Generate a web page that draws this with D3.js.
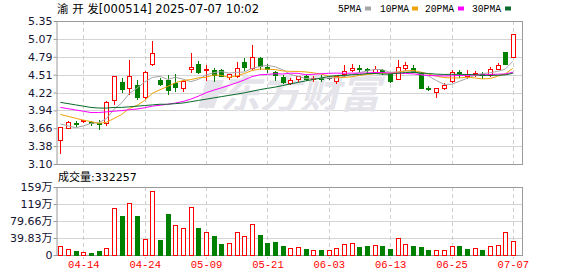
<!DOCTYPE html>
<html><head><meta charset="utf-8">
<script src="https://cdn.jsdelivr.net/npm/d3@7"></script>
<style>body{margin:0;background:#fff}svg{display:block}</style>
</head><body><svg id="c" width="578" height="276"></svg>
<script>
// ---------------- data ----------------
const title = "渝 开 发[000514] 2025-07-07 10:02";
const volLabel = "成交量:332257";
const legendNames = ["5PMA", "10PMA", "20PMA", "30PMA"];

const dates = ["04-09","04-10","04-11","04-14","04-15","04-16","04-17","04-18","04-21","04-22",
  "04-23","04-24","04-25","04-28","04-29","04-30","05-06","05-07","05-08","05-09",
  "05-12","05-13","05-14","05-15","05-16","05-19","05-20","05-21","05-22","05-23",
  "05-26","05-27","05-28","05-29","05-30","06-03","06-04","06-05","06-06","06-09",
  "06-10","06-11","06-12","06-13","06-16","06-17","06-18","06-19","06-20","06-23",
  "06-24","06-25","06-26","06-27","06-30","07-01","07-02","07-03","07-04","07-07"];
const xTicks = ["04-14","04-24","05-09","05-21","06-03","06-13","06-25","07-07"];

const openP = [3.47,3.67,3.75,3.77,3.76,3.75,3.74,4.11,4.39,4.29,
  4.34,4.16,4.67,4.42,4.42,4.37,4.29,4.59,4.67,4.58,
  4.58,4.58,4.47,4.49,4.71,4.61,4.77,4.62,4.55,4.47,
  4.37,4.43,4.48,4.43,4.46,4.45,4.41,4.51,4.58,4.61,
  4.59,4.54,4.58,4.51,4.44,4.61,4.61,4.53,4.30,4.24,
  4.29,4.40,4.54,4.49,4.51,4.51,4.50,4.60,4.87,4.79];
const highP = [3.69,3.78,3.78,3.80,3.77,3.79,4.09,4.48,4.45,4.73,
  4.42,4.56,5.04,4.46,4.50,4.52,4.42,4.84,4.72,4.66,
  4.61,4.59,4.52,4.70,4.76,4.98,4.78,4.67,4.56,4.50,
  4.46,4.49,4.50,4.48,4.50,4.46,4.49,4.66,4.68,4.66,
  4.61,4.64,4.59,4.52,4.73,4.71,4.65,4.54,4.32,4.30,
  4.38,4.58,4.58,4.58,4.57,4.55,4.62,4.69,4.87,5.15];
const lowP = [3.28,3.66,3.70,3.76,3.71,3.65,3.72,4.04,4.24,4.20,
  4.13,4.14,4.66,4.34,4.20,4.25,4.25,4.55,4.53,4.42,
  4.41,4.48,4.44,4.47,4.58,4.59,4.59,4.55,4.42,4.37,
  4.36,4.41,4.42,4.41,4.40,4.44,4.38,4.49,4.57,4.54,
  4.53,4.53,4.52,4.39,4.43,4.58,4.54,4.29,4.26,4.16,
  4.28,4.39,4.47,4.45,4.48,4.46,4.49,4.59,4.67,4.78];
const closeP = [3.68,3.76,3.73,3.79,3.74,3.73,4.07,4.48,4.28,4.49,
  4.15,4.55,4.84,4.36,4.26,4.31,4.41,4.63,4.55,4.60,
  4.50,4.49,4.51,4.61,4.63,4.78,4.64,4.60,4.50,4.39,
  4.42,4.48,4.44,4.46,4.44,4.45,4.48,4.56,4.61,4.59,
  4.58,4.60,4.54,4.40,4.63,4.66,4.55,4.30,4.28,4.29,
  4.35,4.55,4.53,4.51,4.53,4.50,4.60,4.65,4.68,5.15];
const prevCloseBefore = 3.54;

// volume in 万 (10k shares)
const volume = [21,14,10,7,5.5,10,16,109,91,123,
  91,37,150,35,96,70,63,112,64,54,
  45,26,27,54,44,72,46,28,30,21,
  16,18,14,12,12,12,16,25,27,19,
  21,23,21,14,41,25,21,19,12,12,
  11,20,21,14,16,12,20,23,55,33.2257];

const ma5 = [3.73,3.70,3.67,3.70,3.740,3.750,3.812,3.962,4.060,4.210,
  4.294,4.390,4.462,4.478,4.432,4.464,4.436,4.394,4.432,4.500,
  4.538,4.554,4.530,4.542,4.548,4.604,4.634,4.652,4.630,4.582,
  4.510,4.478,4.446,4.438,4.448,4.454,4.454,4.478,4.508,4.538,
  4.564,4.588,4.584,4.542,4.550,4.566,4.556,4.508,4.484,4.416,
  4.354,4.354,4.400,4.446,4.494,4.524,4.534,4.558,4.592,4.716];
const ma10 = [3.88,3.85,3.82,3.79,3.767,3.740,3.756,3.816,3.880,3.975,
  4.022,4.101,4.212,4.269,4.321,4.379,4.413,4.428,4.455,4.466,
  4.501,4.495,4.462,4.487,4.524,4.571,4.594,4.591,4.586,4.565,
  4.557,4.556,4.549,4.534,4.515,4.482,4.466,4.462,4.473,4.493,
  4.509,4.521,4.531,4.525,4.544,4.565,4.572,4.546,4.513,4.483,
  4.460,4.455,4.454,4.465,4.455,4.439,4.444,4.479,4.519,4.605];
const ma20 = [3.99,3.97,3.95,3.93,3.91,3.91,3.92,3.93,3.94,3.955,
  3.965,3.985,4.010,4.025,4.040,4.059,4.084,4.120,4.167,4.221,
  4.262,4.298,4.337,4.378,4.423,4.475,4.504,4.510,4.521,4.516,
  4.529,4.526,4.506,4.511,4.520,4.527,4.530,4.527,4.530,4.529,
  4.533,4.539,4.540,4.530,4.530,4.524,4.519,4.504,4.493,4.488,
  4.485,4.488,4.493,4.495,4.500,4.502,4.508,4.513,4.516,4.544];
const ma30 = [4.07,4.05,4.03,4.01,3.99,3.98,3.98,3.99,3.99,4.00,
  4.01,4.02,4.03,4.04,4.04,4.05,4.06,4.08,4.10,4.12,
  4.14,4.16,4.18,4.20,4.22,4.245,4.27,4.29,4.31,4.335,
  4.360,4.384,4.408,4.430,4.453,4.477,4.491,4.494,4.505,4.508,
  4.522,4.524,4.514,4.515,4.528,4.539,4.544,4.533,4.524,4.514,
  4.509,4.511,4.511,4.508,4.505,4.495,4.494,4.496,4.502,4.527];

const priceTickLabels = ["3.10","3.38","3.66","3.94","4.22","4.51","4.79","5.07","5.35"];
const volTickLabels = ["0","39.83万","79.66万","119万","159万"];
const volMax = 159.32;

// ---------------- layout ----------------
const W = 578, H = 276;
const L = 56, R = 522, T = 21, B = 164, VT = 187, VB = 255;
const step = 7.67;
const UP = "#ff0000", DOWN = "#008000";
const maColors = ["#a6a6a6", "#f0a30a", "#ff00ff", "#0a6b2a"];
const numFont = "'DejaVu Sans', 'Noto Sans CJK SC', sans-serif";
const monoFont = "'Liberation Mono', 'DejaVu Sans Mono', monospace";

const svg = d3.select("#c");
svg.append("rect").attr("width", W).attr("height", H).attr("fill", "#fff");

const x = d3.scaleBand().domain(dates).range([56.5, 56.5 + dates.length * step]).padding(0);
const xc = d => x(d) + x.bandwidth() / 2;
const px = d => Math.round(xc(d));

const yMin = 3.10, yMax = 5.35;
const y = d3.scaleLinear().domain([yMin, yMax]).range([B, T]);
const yv = d3.scaleLinear().domain([0, volMax]).range([VB, VT]);

const priceTickVals = priceTickLabels.map((_, i) => yMin + i * (yMax - yMin) / (priceTickLabels.length - 1));
const volTickVals = volTickLabels.map((_, i) => i * volMax / (volTickLabels.length - 1));

// ---------------- grid ----------------
const grid = svg.append("g");
priceTickVals.slice(1, -1).forEach(v => {
  const yy = Math.round(y(v)) + 0.5;
  grid.append("line").attr("x1", L).attr("x2", R).attr("y1", yy).attr("y2", yy)
    .attr("stroke", "#d4d4d4");
});
volTickVals.slice(1, -1).forEach(v => {
  const yy = Math.round(yv(v)) + 0.5;
  grid.append("line").attr("x1", L).attr("x2", R).attr("y1", yy).attr("y2", yy)
    .attr("stroke", "#d4d4d4");
});
xTicks.forEach(d => {
  const xx = px(d) + 0.5;
  grid.append("line").attr("x1", xx).attr("x2", xx).attr("y1", T).attr("y2", B)
    .attr("stroke", "#cfcfcf").attr("stroke-dasharray", "4,3");
  grid.append("line").attr("x1", xx).attr("x2", xx).attr("y1", VT).attr("y2", VB + 4)
    .attr("stroke", "#cfcfcf").attr("stroke-dasharray", "4,3");
});

// watermark
const wm = svg.append("g").attr("fill", "#e4e4ea");
wm.append("path").attr("d", "M206,80 L224,80 L214,108 L198,108 Z M212,88 L230,84 L226,92 L208,96 Z");
wm.append("text").attr("x", 220).attr("y", 108)
  .attr("font-family", "'Noto Sans CJK SC', sans-serif").attr("font-size", 40)
  .attr("font-weight", "bold").attr("font-style", "italic")
  .text("东方财富");

// frame lines
const frame = svg.append("g").attr("stroke", "#9a9a9a").attr("fill", "none");
[[T, B], [VT, VB]].forEach(([t, b]) => {
  frame.append("line").attr("x1", L).attr("x2", R + 1).attr("y1", t + 0.5).attr("y2", t + 0.5);
  frame.append("line").attr("x1", L).attr("x2", R + 1).attr("y1", b + 0.5).attr("y2", b + 0.5);
  frame.append("line").attr("x1", R + 0.5).attr("x2", R + 0.5).attr("y1", t).attr("y2", b + 1);
});

// ---------------- axes ----------------
const yAxis = d3.axisLeft(y).tickValues(priceTickVals)
  .tickFormat((d, i) => priceTickLabels[i]).tickSize(3).tickSizeOuter(0).tickPadding(1);
const gy = svg.append("g").attr("transform", `translate(${L + 0.5},0)`).call(yAxis);
const vAxis = d3.axisLeft(yv).tickValues(volTickVals)
  .tickFormat((d, i) => volTickLabels[i]).tickSize(3).tickSizeOuter(0).tickPadding(1);
const gv = svg.append("g").attr("transform", `translate(${L + 0.5},0)`).call(vAxis);
[gy, gv].forEach(g => {
  g.select(".domain").attr("stroke", "#9a9a9a");
  g.selectAll(".tick line").attr("stroke", "#9a9a9a");
  g.selectAll(".tick text").attr("fill", "#141432")
    .attr("font-family", numFont).attr("font-size", 11);
});

const xAxis = d3.axisBottom(x).tickValues(xTicks).tickSize(0).tickPadding(6);
const gx = svg.append("g").attr("transform", `translate(0.5,${VB})`).call(xAxis);
gx.select(".domain").remove();
gx.selectAll(".tick text").attr("fill", "#ff0000")
  .attr("font-family", monoFont).attr("font-size", 10.5);

// ---------------- candles ----------------
const candles = svg.append("g");
dates.forEach((d, i) => {
  const o = openP[i], c = closeP[i], h = highP[i], l = lowP[i];
  const col = c > o ? UP : (c < o ? DOWN : "#404040");
  const cx = px(d) + 0.5;
  candles.append("line").attr("x1", cx).attr("x2", cx)
    .attr("y1", Math.round(y(h))).attr("y2", Math.round(y(l)) + 1).attr("stroke", col);
  const top = Math.round(y(Math.max(o, c))), bot = Math.round(y(Math.min(o, c)));
  if (c > o) {
    candles.append("rect").attr("x", cx - 2).attr("y", top + 0.5)
      .attr("width", 4).attr("height", Math.max(1, bot - top))
      .attr("fill", "#fff").attr("stroke", col);
  } else if (c < o) {
    candles.append("rect").attr("x", cx - 2.5).attr("y", top)
      .attr("width", 5).attr("height", Math.max(1, bot - top + 1)).attr("fill", col);
  } else {
    candles.append("line").attr("x1", cx - 2.5).attr("x2", cx + 2.5)
      .attr("y1", top + 0.5).attr("y2", top + 0.5).attr("stroke", col);
  }
});

// ---------------- MA lines ----------------
const maSeries = [ma5, ma10, ma20, ma30];
const line = d3.line().x((v, i) => xc(dates[i])).y(v => y(v));
maSeries.forEach((s, k) => {
  svg.append("path").datum(s).attr("d", line).attr("fill", "none")
    .attr("stroke", maColors[k]).attr("stroke-width", 1);
});

// ---------------- volume ----------------
const vols = svg.append("g");
dates.forEach((d, i) => {
  const prev = i === 0 ? prevCloseBefore : closeP[i - 1];
  const up = closeP[i] >= prev;
  const cx = px(d) + 0.5;
  const top = Math.round(yv(volume[i]));
  if (up) {
    vols.append("rect").attr("x", cx - 2).attr("y", top + 0.5)
      .attr("width", 4).attr("height", VB - top).attr("fill", "#fff").attr("stroke", UP);
  } else {
    vols.append("rect").attr("x", cx - 2.5).attr("y", top)
      .attr("width", 5).attr("height", VB - top + 1).attr("fill", DOWN);
  }
});

// ---------------- texts ----------------
svg.append("text").attr("x", 57).attr("y", 13)
  .attr("font-family", numFont).attr("font-size", 11.5).attr("fill", "#000")
  .text(title);
svg.append("text").attr("x", 58).attr("y", 181)
  .attr("font-family", numFont).attr("font-size", 11).attr("fill", "#000")
  .text(volLabel);

const legendX = [338, 380, 425, 472];
const legendSqX = [365, 412, 458, 505];
legendNames.forEach((n, k) => {
  svg.append("text").attr("x", legendX[k]).attr("y", 12)
    .attr("font-family", monoFont).attr("font-size", 10.5).attr("fill", "#000")
    .attr("textLength", n.length * 5.8).attr("lengthAdjust", "spacingAndGlyphs").text(n);
  svg.append("rect").attr("x", legendSqX[k]).attr("y", 6.5).attr("width", 6).attr("height", 4)
    .attr("fill", maColors[k]);
});
</script></body></html>
